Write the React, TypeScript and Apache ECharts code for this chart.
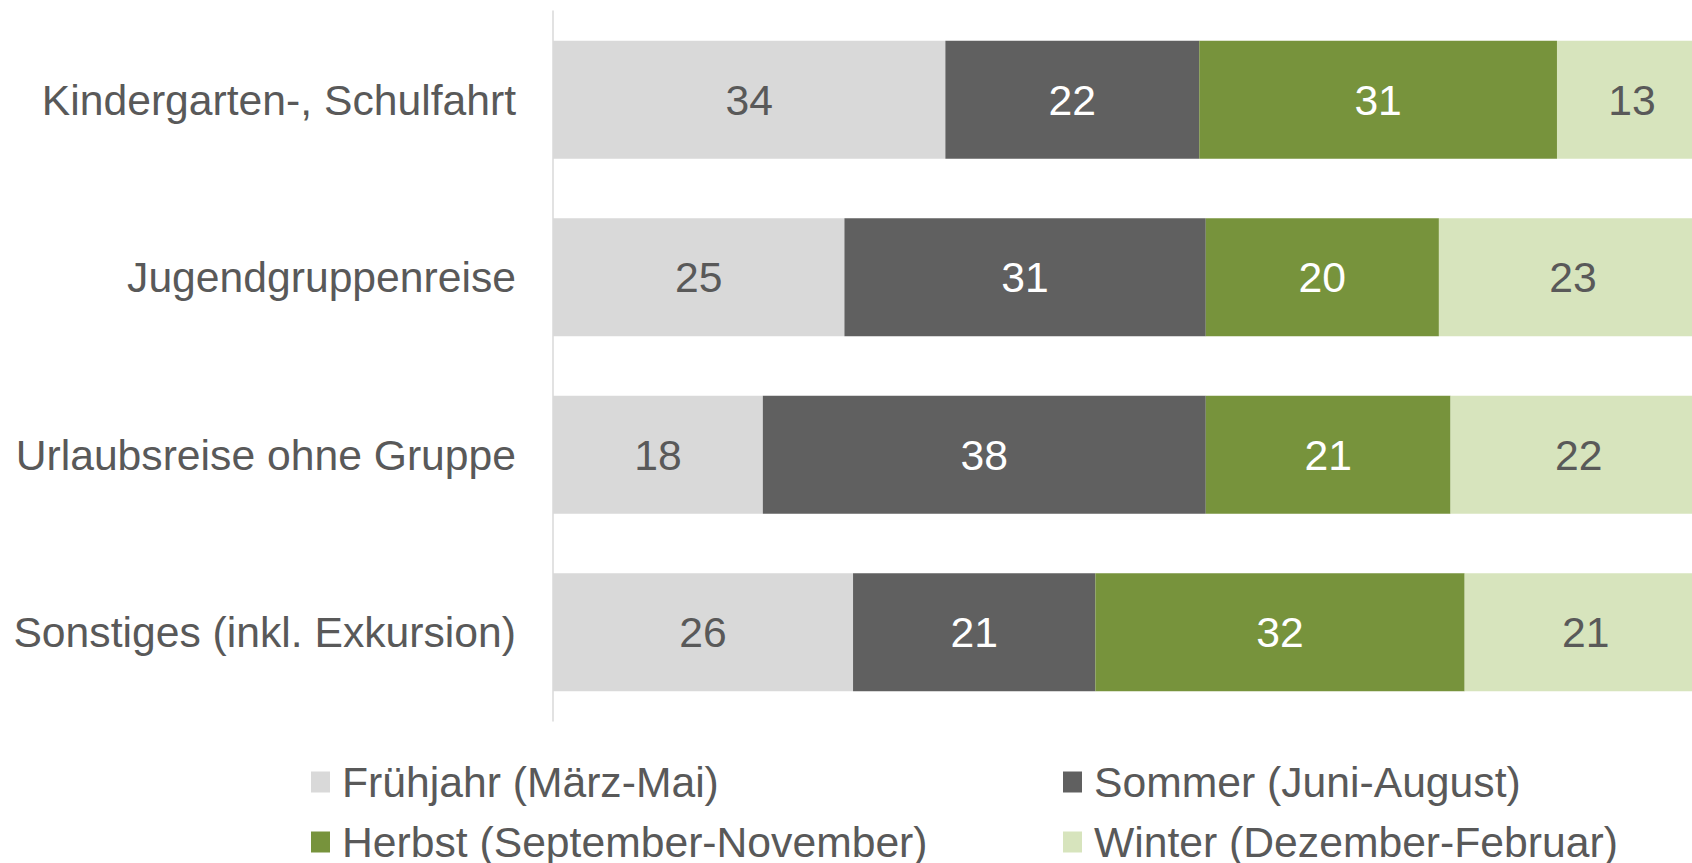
import React, { useEffect, useRef } from "react";
import * as echarts from "echarts";

const categories = [
  "Kindergarten-, Schulfahrt",
  "Jugendgruppenreise",
  "Urlaubsreise ohne Gruppe",
  "Sonstiges (inkl. Exkursion)",
];
const seriesNames = [
  "Frühjahr (März-Mai)",
  "Sommer (Juni-August)",
  "Herbst (September-November)",
  "Winter (Dezember-Februar)",
];
const fruehjahr = [34, 25, 18, 26];
const sommer = [22, 31, 38, 21];
const herbst = [31, 20, 21, 32];
const winter = [13, 23, 22, 21];

const colors = ["#D9D9D9", "#606060", "#77933C", "#D7E4BD"];
const labelColors = ["#595959", "#FFFFFF", "#FFFFFF", "#595959"];
const FONT = "'Liberation Sans', Arial, Helvetica, sans-serif";
const FS = 42.67;

export default function App() {
  const ref = useRef<HTMLDivElement>(null);
  useEffect(() => {
    if (!ref.current) return;
    const chart = echarts.init(ref.current, null, { renderer: "svg" });
    const all = [fruehjahr, sommer, herbst, winter];
    const sums = categories.map((_, i) => all.reduce((s, arr) => s + arr[i], 0));
    const series = all.map((arr, k) => ({
      name: seriesNames[k],
      type: "bar",
      stack: "total",
      barWidth: 118,
      itemStyle: { color: colors[k] },
      label: {
        show: true,
        position: "inside",
        fontSize: FS,
        fontFamily: FONT,
        color: labelColors[k],
        formatter: (p: any) => String(arr[p.dataIndex]),
      },
      data: arr.map((v, i) => (v / sums[i]) * 100),
    }));
    const legendPos = [
      { left: 311, top: 758 },
      { left: 1063, top: 758 },
      { left: 311, top: 818 },
      { left: 1063, top: 818 },
    ];
    const legend = seriesNames.map((n, k) => ({
      data: [n],
      left: legendPos[k].left,
      top: legendPos[k].top,
      padding: 0,
      itemWidth: 19,
      itemHeight: 21,
      icon: "rect",
      selectedMode: false,
      textStyle: {
        fontSize: FS,
        fontFamily: FONT,
        color: "#595959",
        lineHeight: 48,
        padding: [0, 0, 0, 7],
      },
    }));
    chart.setOption({
      animation: false,
      backgroundColor: "#FFFFFF",
      legend,
      grid: {
        left: 553,
        top: 11,
        width: 1154,
        height: 710,
        containLabel: false,
        outerBoundsMode: "none",
      },
      xAxis: {
        type: "value",
        min: 0,
        max: 100,
        show: false,
      },
      yAxis: {
        type: "category",
        inverse: true,
        data: categories,
        axisLine: { show: true, lineStyle: { color: "#D9D9D9", width: 1.5 } },
        axisTick: { show: false },
        axisLabel: { fontSize: FS, fontFamily: FONT, color: "#595959", margin: 37 },
        splitLine: { show: false },
      },
      series,
    });
    return () => chart.dispose();
  }, []);
  return (
    <div
      ref={ref}
      style={{ position: "fixed", left: 0, top: 0, width: 1692, height: 863, background: "#fff" }}
    />
  );
}
